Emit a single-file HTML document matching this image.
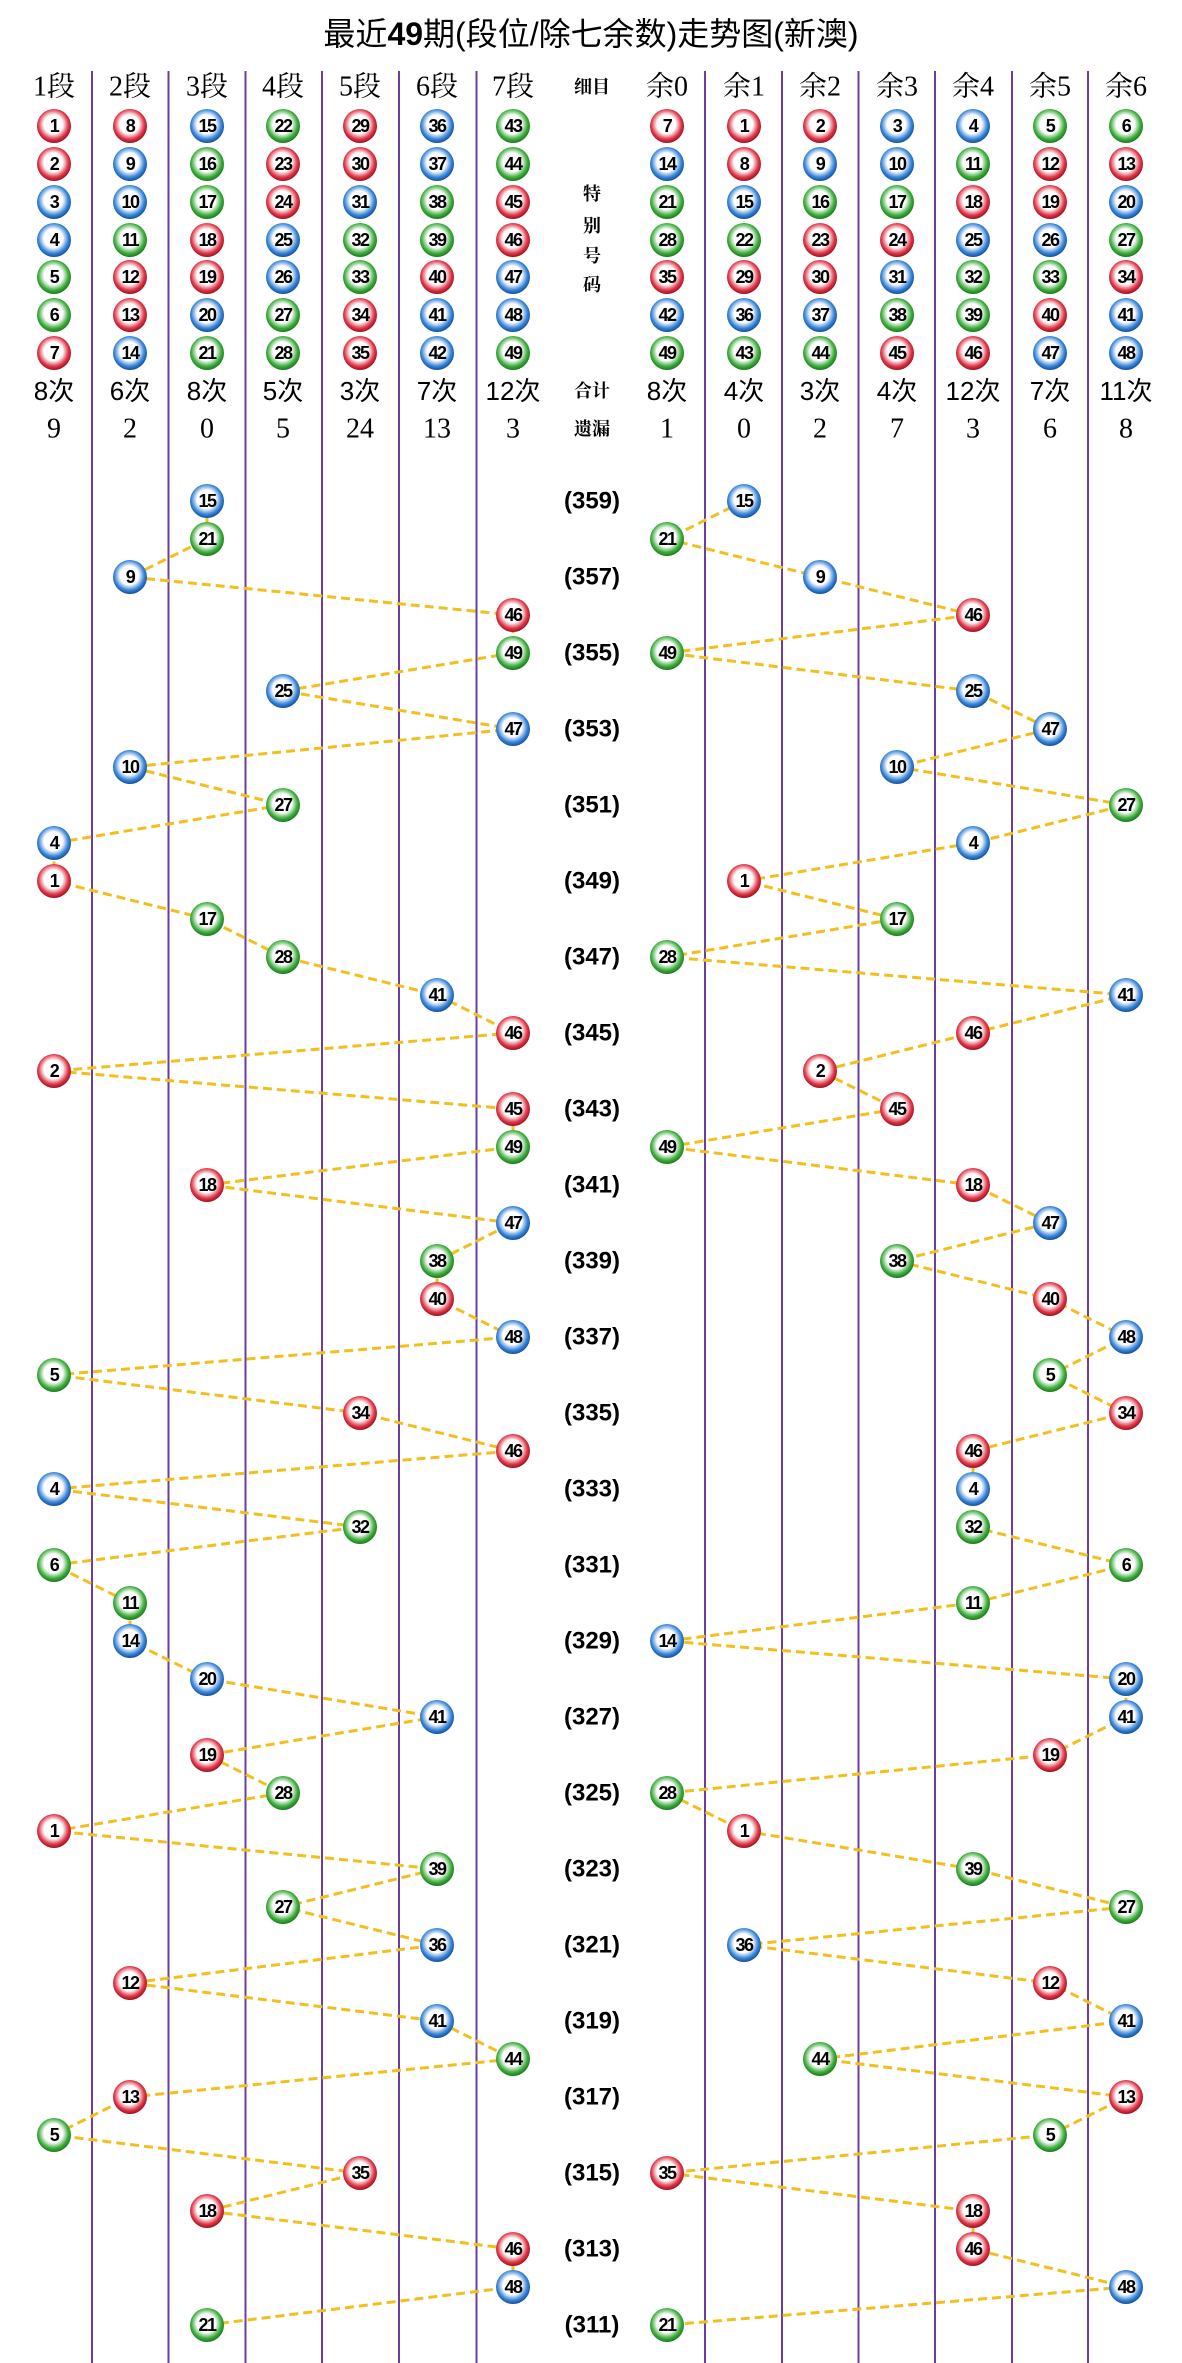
<!DOCTYPE html>
<html><head><meta charset="utf-8"><style>
html,body{margin:0;padding:0;background:#fff}
svg{display:block}
.b{font-family:"Liberation Sans",sans-serif;font-weight:bold;font-size:18px;text-anchor:middle;dominant-baseline:central;fill:#000;letter-spacing:-1.5px}
.t{font-family:"Liberation Sans","Noto Sans CJK SC",sans-serif;font-size:32px;text-anchor:middle;dominant-baseline:central;fill:#000}
.h{font-family:"Liberation Serif","Noto Serif CJK SC",serif;font-size:28px;text-anchor:middle;dominant-baseline:central;fill:#000}
.c{font-family:"Liberation Sans","Noto Sans CJK SC",sans-serif;font-size:26px;text-anchor:middle;dominant-baseline:central;fill:#000}
.s{font-family:"Liberation Serif","Noto Serif CJK SC",serif;font-size:18px;font-weight:bold;text-anchor:middle;dominant-baseline:central;fill:#000}
.p{font-family:"Liberation Sans",sans-serif;font-size:24px;font-weight:bold;text-anchor:middle;dominant-baseline:central;fill:#000}
</style></head><body>
<svg width="1182" height="2363" viewBox="0 0 1182 2363" xmlns="http://www.w3.org/2000/svg">
<defs>
<radialGradient id="gr" cx="48%" cy="45%" r="55%"><stop offset="0" stop-color="#fff"/><stop offset="0.5" stop-color="#fff"/><stop offset="0.8" stop-color="#e0394a"/><stop offset="1" stop-color="#9c1020"/></radialGradient>
<radialGradient id="gb" cx="48%" cy="45%" r="55%"><stop offset="0" stop-color="#fff"/><stop offset="0.5" stop-color="#fff"/><stop offset="0.8" stop-color="#3a86d8"/><stop offset="1" stop-color="#11509c"/></radialGradient>
<radialGradient id="gg" cx="48%" cy="45%" r="55%"><stop offset="0" stop-color="#fff"/><stop offset="0.5" stop-color="#fff"/><stop offset="0.8" stop-color="#3fae3f"/><stop offset="1" stop-color="#1b7a1b"/></radialGradient>
<circle id="R" r="17" fill="url(#gr)"/>
<circle id="B" r="17" fill="url(#gb)"/>
<circle id="G" r="17" fill="url(#gg)"/>
</defs>
<text class="t" x="591" y="34">最近<tspan font-weight="bold">49</tspan>期(段位/除七余数)走势图(新澳)</text>
<g stroke="#6a3d9e" stroke-width="2">
<line x1="92" y1="71" x2="92" y2="2363"/><line x1="168.5" y1="71" x2="168.5" y2="2363"/><line x1="245.5" y1="71" x2="245.5" y2="2363"/><line x1="322" y1="71" x2="322" y2="2363"/><line x1="399" y1="71" x2="399" y2="2363"/><line x1="476.5" y1="71" x2="476.5" y2="2363"/>
<line x1="705" y1="71" x2="705" y2="2363"/><line x1="782" y1="71" x2="782" y2="2363"/><line x1="858.5" y1="71" x2="858.5" y2="2363"/><line x1="935" y1="71" x2="935" y2="2363"/><line x1="1012" y1="71" x2="1012" y2="2363"/><line x1="1088" y1="71" x2="1088" y2="2363"/>
</g>
<text class="h" x="54" y="87">1段</text><text class="h" x="130" y="87">2段</text><text class="h" x="207" y="87">3段</text><text class="h" x="283" y="87">4段</text><text class="h" x="360" y="87">5段</text><text class="h" x="437" y="87">6段</text><text class="h" x="513" y="87">7段</text>
<text class="s" x="592" y="87">细目</text>
<text class="h" x="667" y="87">余0</text><text class="h" x="744" y="87">余1</text><text class="h" x="820" y="87">余2</text><text class="h" x="897" y="87">余3</text><text class="h" x="973" y="87">余4</text><text class="h" x="1050" y="87">余5</text><text class="h" x="1126" y="87">余6</text>
<text class="s" x="592" y="194">特</text><text class="s" x="592" y="226">别</text><text class="s" x="592" y="256">号</text><text class="s" x="592" y="285">码</text>
<text class="c" x="54" y="391">8次</text><text class="c" x="130" y="391">6次</text><text class="c" x="207" y="391">8次</text><text class="c" x="283" y="391">5次</text><text class="c" x="360" y="391">3次</text><text class="c" x="437" y="391">7次</text><text class="c" x="513" y="391">12次</text>
<text class="s" x="592" y="391">合计</text>
<text class="c" x="667" y="391">8次</text><text class="c" x="744" y="391">4次</text><text class="c" x="820" y="391">3次</text><text class="c" x="897" y="391">4次</text><text class="c" x="973" y="391">12次</text><text class="c" x="1050" y="391">7次</text><text class="c" x="1126" y="391">11次</text>
<text class="h" x="54" y="429">9</text><text class="h" x="130" y="429">2</text><text class="h" x="207" y="429">0</text><text class="h" x="283" y="429">5</text><text class="h" x="360" y="429">24</text><text class="h" x="437" y="429">13</text><text class="h" x="513" y="429">3</text>
<text class="s" x="592" y="429">遗漏</text>
<text class="h" x="667" y="429">1</text><text class="h" x="744" y="429">0</text><text class="h" x="820" y="429">2</text><text class="h" x="897" y="429">7</text><text class="h" x="973" y="429">3</text><text class="h" x="1050" y="429">6</text><text class="h" x="1126" y="429">8</text>

<g transform="translate(54,126)"><use href="#R"/><text class="b">1</text></g>
<g transform="translate(54,164)"><use href="#R"/><text class="b">2</text></g>
<g transform="translate(54,202)"><use href="#B"/><text class="b">3</text></g>
<g transform="translate(54,240)"><use href="#B"/><text class="b">4</text></g>
<g transform="translate(54,277)"><use href="#G"/><text class="b">5</text></g>
<g transform="translate(54,315)"><use href="#G"/><text class="b">6</text></g>
<g transform="translate(54,353)"><use href="#R"/><text class="b">7</text></g>
<g transform="translate(130,126)"><use href="#R"/><text class="b">8</text></g>
<g transform="translate(130,164)"><use href="#B"/><text class="b">9</text></g>
<g transform="translate(130,202)"><use href="#B"/><text class="b">10</text></g>
<g transform="translate(130,240)"><use href="#G"/><text class="b">11</text></g>
<g transform="translate(130,277)"><use href="#R"/><text class="b">12</text></g>
<g transform="translate(130,315)"><use href="#R"/><text class="b">13</text></g>
<g transform="translate(130,353)"><use href="#B"/><text class="b">14</text></g>
<g transform="translate(207,126)"><use href="#B"/><text class="b">15</text></g>
<g transform="translate(207,164)"><use href="#G"/><text class="b">16</text></g>
<g transform="translate(207,202)"><use href="#G"/><text class="b">17</text></g>
<g transform="translate(207,240)"><use href="#R"/><text class="b">18</text></g>
<g transform="translate(207,277)"><use href="#R"/><text class="b">19</text></g>
<g transform="translate(207,315)"><use href="#B"/><text class="b">20</text></g>
<g transform="translate(207,353)"><use href="#G"/><text class="b">21</text></g>
<g transform="translate(283,126)"><use href="#G"/><text class="b">22</text></g>
<g transform="translate(283,164)"><use href="#R"/><text class="b">23</text></g>
<g transform="translate(283,202)"><use href="#R"/><text class="b">24</text></g>
<g transform="translate(283,240)"><use href="#B"/><text class="b">25</text></g>
<g transform="translate(283,277)"><use href="#B"/><text class="b">26</text></g>
<g transform="translate(283,315)"><use href="#G"/><text class="b">27</text></g>
<g transform="translate(283,353)"><use href="#G"/><text class="b">28</text></g>
<g transform="translate(360,126)"><use href="#R"/><text class="b">29</text></g>
<g transform="translate(360,164)"><use href="#R"/><text class="b">30</text></g>
<g transform="translate(360,202)"><use href="#B"/><text class="b">31</text></g>
<g transform="translate(360,240)"><use href="#G"/><text class="b">32</text></g>
<g transform="translate(360,277)"><use href="#G"/><text class="b">33</text></g>
<g transform="translate(360,315)"><use href="#R"/><text class="b">34</text></g>
<g transform="translate(360,353)"><use href="#R"/><text class="b">35</text></g>
<g transform="translate(437,126)"><use href="#B"/><text class="b">36</text></g>
<g transform="translate(437,164)"><use href="#B"/><text class="b">37</text></g>
<g transform="translate(437,202)"><use href="#G"/><text class="b">38</text></g>
<g transform="translate(437,240)"><use href="#G"/><text class="b">39</text></g>
<g transform="translate(437,277)"><use href="#R"/><text class="b">40</text></g>
<g transform="translate(437,315)"><use href="#B"/><text class="b">41</text></g>
<g transform="translate(437,353)"><use href="#B"/><text class="b">42</text></g>
<g transform="translate(513,126)"><use href="#G"/><text class="b">43</text></g>
<g transform="translate(513,164)"><use href="#G"/><text class="b">44</text></g>
<g transform="translate(513,202)"><use href="#R"/><text class="b">45</text></g>
<g transform="translate(513,240)"><use href="#R"/><text class="b">46</text></g>
<g transform="translate(513,277)"><use href="#B"/><text class="b">47</text></g>
<g transform="translate(513,315)"><use href="#B"/><text class="b">48</text></g>
<g transform="translate(513,353)"><use href="#G"/><text class="b">49</text></g>
<g transform="translate(667,126)"><use href="#R"/><text class="b">7</text></g>
<g transform="translate(667,164)"><use href="#B"/><text class="b">14</text></g>
<g transform="translate(667,202)"><use href="#G"/><text class="b">21</text></g>
<g transform="translate(667,240)"><use href="#G"/><text class="b">28</text></g>
<g transform="translate(667,277)"><use href="#R"/><text class="b">35</text></g>
<g transform="translate(667,315)"><use href="#B"/><text class="b">42</text></g>
<g transform="translate(667,353)"><use href="#G"/><text class="b">49</text></g>
<g transform="translate(744,126)"><use href="#R"/><text class="b">1</text></g>
<g transform="translate(744,164)"><use href="#R"/><text class="b">8</text></g>
<g transform="translate(744,202)"><use href="#B"/><text class="b">15</text></g>
<g transform="translate(744,240)"><use href="#G"/><text class="b">22</text></g>
<g transform="translate(744,277)"><use href="#R"/><text class="b">29</text></g>
<g transform="translate(744,315)"><use href="#B"/><text class="b">36</text></g>
<g transform="translate(744,353)"><use href="#G"/><text class="b">43</text></g>
<g transform="translate(820,126)"><use href="#R"/><text class="b">2</text></g>
<g transform="translate(820,164)"><use href="#B"/><text class="b">9</text></g>
<g transform="translate(820,202)"><use href="#G"/><text class="b">16</text></g>
<g transform="translate(820,240)"><use href="#R"/><text class="b">23</text></g>
<g transform="translate(820,277)"><use href="#R"/><text class="b">30</text></g>
<g transform="translate(820,315)"><use href="#B"/><text class="b">37</text></g>
<g transform="translate(820,353)"><use href="#G"/><text class="b">44</text></g>
<g transform="translate(897,126)"><use href="#B"/><text class="b">3</text></g>
<g transform="translate(897,164)"><use href="#B"/><text class="b">10</text></g>
<g transform="translate(897,202)"><use href="#G"/><text class="b">17</text></g>
<g transform="translate(897,240)"><use href="#R"/><text class="b">24</text></g>
<g transform="translate(897,277)"><use href="#B"/><text class="b">31</text></g>
<g transform="translate(897,315)"><use href="#G"/><text class="b">38</text></g>
<g transform="translate(897,353)"><use href="#R"/><text class="b">45</text></g>
<g transform="translate(973,126)"><use href="#B"/><text class="b">4</text></g>
<g transform="translate(973,164)"><use href="#G"/><text class="b">11</text></g>
<g transform="translate(973,202)"><use href="#R"/><text class="b">18</text></g>
<g transform="translate(973,240)"><use href="#B"/><text class="b">25</text></g>
<g transform="translate(973,277)"><use href="#G"/><text class="b">32</text></g>
<g transform="translate(973,315)"><use href="#G"/><text class="b">39</text></g>
<g transform="translate(973,353)"><use href="#R"/><text class="b">46</text></g>
<g transform="translate(1050,126)"><use href="#G"/><text class="b">5</text></g>
<g transform="translate(1050,164)"><use href="#R"/><text class="b">12</text></g>
<g transform="translate(1050,202)"><use href="#R"/><text class="b">19</text></g>
<g transform="translate(1050,240)"><use href="#B"/><text class="b">26</text></g>
<g transform="translate(1050,277)"><use href="#G"/><text class="b">33</text></g>
<g transform="translate(1050,315)"><use href="#R"/><text class="b">40</text></g>
<g transform="translate(1050,353)"><use href="#B"/><text class="b">47</text></g>
<g transform="translate(1126,126)"><use href="#G"/><text class="b">6</text></g>
<g transform="translate(1126,164)"><use href="#R"/><text class="b">13</text></g>
<g transform="translate(1126,202)"><use href="#B"/><text class="b">20</text></g>
<g transform="translate(1126,240)"><use href="#G"/><text class="b">27</text></g>
<g transform="translate(1126,277)"><use href="#R"/><text class="b">34</text></g>
<g transform="translate(1126,315)"><use href="#B"/><text class="b">41</text></g>
<g transform="translate(1126,353)"><use href="#B"/><text class="b">48</text></g>

<text class="p" x="592" y="501">(359)</text><text class="p" x="592" y="577">(357)</text><text class="p" x="592" y="653">(355)</text><text class="p" x="592" y="729">(353)</text><text class="p" x="592" y="805">(351)</text><text class="p" x="592" y="881">(349)</text><text class="p" x="592" y="957">(347)</text><text class="p" x="592" y="1033">(345)</text><text class="p" x="592" y="1109">(343)</text><text class="p" x="592" y="1185">(341)</text><text class="p" x="592" y="1261">(339)</text><text class="p" x="592" y="1337">(337)</text><text class="p" x="592" y="1413">(335)</text><text class="p" x="592" y="1489">(333)</text><text class="p" x="592" y="1565">(331)</text><text class="p" x="592" y="1641">(329)</text><text class="p" x="592" y="1717">(327)</text><text class="p" x="592" y="1793">(325)</text><text class="p" x="592" y="1869">(323)</text><text class="p" x="592" y="1945">(321)</text><text class="p" x="592" y="2021">(319)</text><text class="p" x="592" y="2097">(317)</text><text class="p" x="592" y="2173">(315)</text><text class="p" x="592" y="2249">(313)</text><text class="p" x="592" y="2325">(311)</text>

<g fill="none" stroke="#f2bf1c" stroke-width="3" stroke-dasharray="9,5">
<polyline points="207,501 207,539 130,577 513,615 513,653 283,691 513,729 130,767 283,805 54,843 54,881 207,919 283,957 437,995 513,1033 54,1071 513,1109 513,1147 207,1185 513,1223 437,1261 437,1299 513,1337 54,1375 360,1413 513,1451 54,1489 360,1527 54,1565 130,1603 130,1641 207,1679 437,1717 207,1755 283,1793 54,1831 437,1869 283,1907 437,1945 130,1983 437,2021 513,2059 130,2097 54,2135 360,2173 207,2211 513,2249 513,2287 207,2325"/>
<polyline points="744,501 667,539 820,577 973,615 667,653 973,691 1050,729 897,767 1126,805 973,843 744,881 897,919 667,957 1126,995 973,1033 820,1071 897,1109 667,1147 973,1185 1050,1223 897,1261 1050,1299 1126,1337 1050,1375 1126,1413 973,1451 973,1489 973,1527 1126,1565 973,1603 667,1641 1126,1679 1126,1717 1050,1755 667,1793 744,1831 973,1869 1126,1907 744,1945 1050,1983 1126,2021 820,2059 1126,2097 1050,2135 667,2173 973,2211 973,2249 1126,2287 667,2325"/>
</g>

<g transform="translate(207,501)"><use href="#B"/><text class="b">15</text></g>
<g transform="translate(207,539)"><use href="#G"/><text class="b">21</text></g>
<g transform="translate(130,577)"><use href="#B"/><text class="b">9</text></g>
<g transform="translate(513,615)"><use href="#R"/><text class="b">46</text></g>
<g transform="translate(513,653)"><use href="#G"/><text class="b">49</text></g>
<g transform="translate(283,691)"><use href="#B"/><text class="b">25</text></g>
<g transform="translate(513,729)"><use href="#B"/><text class="b">47</text></g>
<g transform="translate(130,767)"><use href="#B"/><text class="b">10</text></g>
<g transform="translate(283,805)"><use href="#G"/><text class="b">27</text></g>
<g transform="translate(54,843)"><use href="#B"/><text class="b">4</text></g>
<g transform="translate(54,881)"><use href="#R"/><text class="b">1</text></g>
<g transform="translate(207,919)"><use href="#G"/><text class="b">17</text></g>
<g transform="translate(283,957)"><use href="#G"/><text class="b">28</text></g>
<g transform="translate(437,995)"><use href="#B"/><text class="b">41</text></g>
<g transform="translate(513,1033)"><use href="#R"/><text class="b">46</text></g>
<g transform="translate(54,1071)"><use href="#R"/><text class="b">2</text></g>
<g transform="translate(513,1109)"><use href="#R"/><text class="b">45</text></g>
<g transform="translate(513,1147)"><use href="#G"/><text class="b">49</text></g>
<g transform="translate(207,1185)"><use href="#R"/><text class="b">18</text></g>
<g transform="translate(513,1223)"><use href="#B"/><text class="b">47</text></g>
<g transform="translate(437,1261)"><use href="#G"/><text class="b">38</text></g>
<g transform="translate(437,1299)"><use href="#R"/><text class="b">40</text></g>
<g transform="translate(513,1337)"><use href="#B"/><text class="b">48</text></g>
<g transform="translate(54,1375)"><use href="#G"/><text class="b">5</text></g>
<g transform="translate(360,1413)"><use href="#R"/><text class="b">34</text></g>
<g transform="translate(513,1451)"><use href="#R"/><text class="b">46</text></g>
<g transform="translate(54,1489)"><use href="#B"/><text class="b">4</text></g>
<g transform="translate(360,1527)"><use href="#G"/><text class="b">32</text></g>
<g transform="translate(54,1565)"><use href="#G"/><text class="b">6</text></g>
<g transform="translate(130,1603)"><use href="#G"/><text class="b">11</text></g>
<g transform="translate(130,1641)"><use href="#B"/><text class="b">14</text></g>
<g transform="translate(207,1679)"><use href="#B"/><text class="b">20</text></g>
<g transform="translate(437,1717)"><use href="#B"/><text class="b">41</text></g>
<g transform="translate(207,1755)"><use href="#R"/><text class="b">19</text></g>
<g transform="translate(283,1793)"><use href="#G"/><text class="b">28</text></g>
<g transform="translate(54,1831)"><use href="#R"/><text class="b">1</text></g>
<g transform="translate(437,1869)"><use href="#G"/><text class="b">39</text></g>
<g transform="translate(283,1907)"><use href="#G"/><text class="b">27</text></g>
<g transform="translate(437,1945)"><use href="#B"/><text class="b">36</text></g>
<g transform="translate(130,1983)"><use href="#R"/><text class="b">12</text></g>
<g transform="translate(437,2021)"><use href="#B"/><text class="b">41</text></g>
<g transform="translate(513,2059)"><use href="#G"/><text class="b">44</text></g>
<g transform="translate(130,2097)"><use href="#R"/><text class="b">13</text></g>
<g transform="translate(54,2135)"><use href="#G"/><text class="b">5</text></g>
<g transform="translate(360,2173)"><use href="#R"/><text class="b">35</text></g>
<g transform="translate(207,2211)"><use href="#R"/><text class="b">18</text></g>
<g transform="translate(513,2249)"><use href="#R"/><text class="b">46</text></g>
<g transform="translate(513,2287)"><use href="#B"/><text class="b">48</text></g>
<g transform="translate(207,2325)"><use href="#G"/><text class="b">21</text></g>
<g transform="translate(744,501)"><use href="#B"/><text class="b">15</text></g>
<g transform="translate(667,539)"><use href="#G"/><text class="b">21</text></g>
<g transform="translate(820,577)"><use href="#B"/><text class="b">9</text></g>
<g transform="translate(973,615)"><use href="#R"/><text class="b">46</text></g>
<g transform="translate(667,653)"><use href="#G"/><text class="b">49</text></g>
<g transform="translate(973,691)"><use href="#B"/><text class="b">25</text></g>
<g transform="translate(1050,729)"><use href="#B"/><text class="b">47</text></g>
<g transform="translate(897,767)"><use href="#B"/><text class="b">10</text></g>
<g transform="translate(1126,805)"><use href="#G"/><text class="b">27</text></g>
<g transform="translate(973,843)"><use href="#B"/><text class="b">4</text></g>
<g transform="translate(744,881)"><use href="#R"/><text class="b">1</text></g>
<g transform="translate(897,919)"><use href="#G"/><text class="b">17</text></g>
<g transform="translate(667,957)"><use href="#G"/><text class="b">28</text></g>
<g transform="translate(1126,995)"><use href="#B"/><text class="b">41</text></g>
<g transform="translate(973,1033)"><use href="#R"/><text class="b">46</text></g>
<g transform="translate(820,1071)"><use href="#R"/><text class="b">2</text></g>
<g transform="translate(897,1109)"><use href="#R"/><text class="b">45</text></g>
<g transform="translate(667,1147)"><use href="#G"/><text class="b">49</text></g>
<g transform="translate(973,1185)"><use href="#R"/><text class="b">18</text></g>
<g transform="translate(1050,1223)"><use href="#B"/><text class="b">47</text></g>
<g transform="translate(897,1261)"><use href="#G"/><text class="b">38</text></g>
<g transform="translate(1050,1299)"><use href="#R"/><text class="b">40</text></g>
<g transform="translate(1126,1337)"><use href="#B"/><text class="b">48</text></g>
<g transform="translate(1050,1375)"><use href="#G"/><text class="b">5</text></g>
<g transform="translate(1126,1413)"><use href="#R"/><text class="b">34</text></g>
<g transform="translate(973,1451)"><use href="#R"/><text class="b">46</text></g>
<g transform="translate(973,1489)"><use href="#B"/><text class="b">4</text></g>
<g transform="translate(973,1527)"><use href="#G"/><text class="b">32</text></g>
<g transform="translate(1126,1565)"><use href="#G"/><text class="b">6</text></g>
<g transform="translate(973,1603)"><use href="#G"/><text class="b">11</text></g>
<g transform="translate(667,1641)"><use href="#B"/><text class="b">14</text></g>
<g transform="translate(1126,1679)"><use href="#B"/><text class="b">20</text></g>
<g transform="translate(1126,1717)"><use href="#B"/><text class="b">41</text></g>
<g transform="translate(1050,1755)"><use href="#R"/><text class="b">19</text></g>
<g transform="translate(667,1793)"><use href="#G"/><text class="b">28</text></g>
<g transform="translate(744,1831)"><use href="#R"/><text class="b">1</text></g>
<g transform="translate(973,1869)"><use href="#G"/><text class="b">39</text></g>
<g transform="translate(1126,1907)"><use href="#G"/><text class="b">27</text></g>
<g transform="translate(744,1945)"><use href="#B"/><text class="b">36</text></g>
<g transform="translate(1050,1983)"><use href="#R"/><text class="b">12</text></g>
<g transform="translate(1126,2021)"><use href="#B"/><text class="b">41</text></g>
<g transform="translate(820,2059)"><use href="#G"/><text class="b">44</text></g>
<g transform="translate(1126,2097)"><use href="#R"/><text class="b">13</text></g>
<g transform="translate(1050,2135)"><use href="#G"/><text class="b">5</text></g>
<g transform="translate(667,2173)"><use href="#R"/><text class="b">35</text></g>
<g transform="translate(973,2211)"><use href="#R"/><text class="b">18</text></g>
<g transform="translate(973,2249)"><use href="#R"/><text class="b">46</text></g>
<g transform="translate(1126,2287)"><use href="#B"/><text class="b">48</text></g>
<g transform="translate(667,2325)"><use href="#G"/><text class="b">21</text></g>
</svg>
</body></html>
